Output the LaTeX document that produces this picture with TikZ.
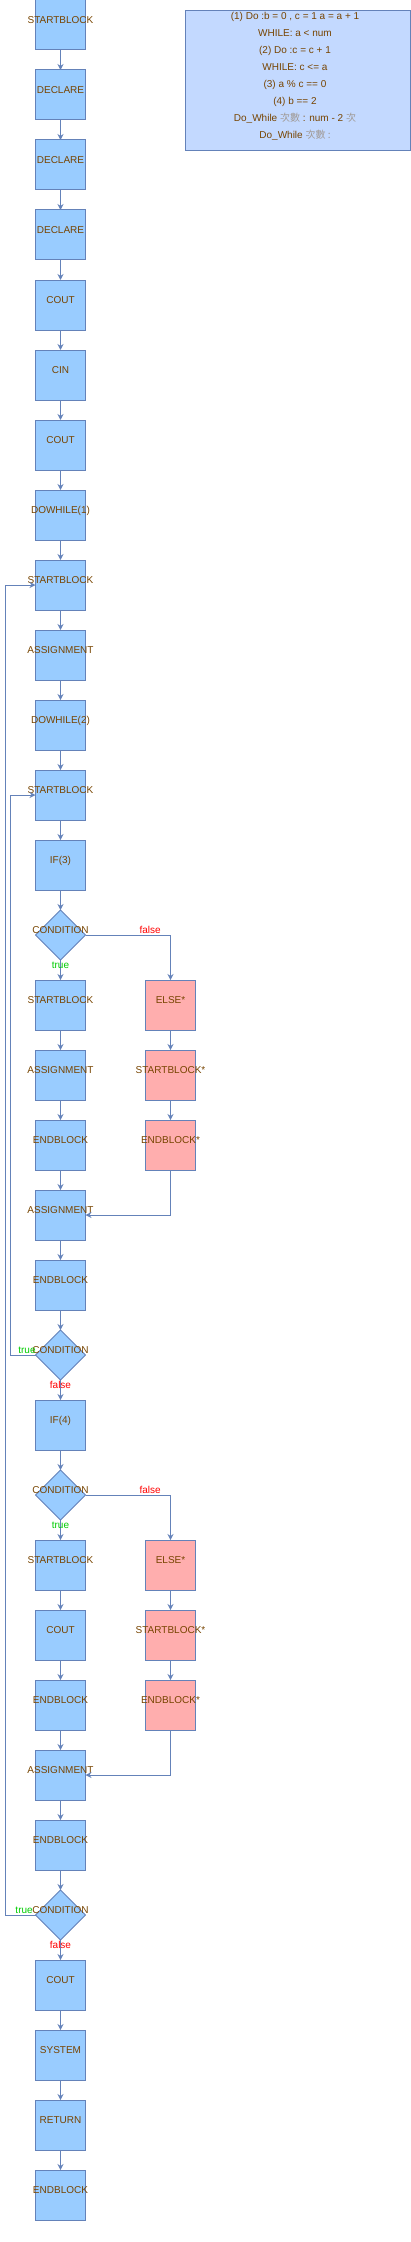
\documentclass[tikz,border=0pt]{standalone}
\usepackage{fontspec}
\setmainfont{Liberation Sans}
\newfontfamily\zhfont{Noto Sans CJK TC}
\usepackage{tikz}
\usetikzlibrary{positioning,shapes.geometric,arrows.meta}

\definecolor{boxblue}{HTML}{99CCFF}
\definecolor{boxred}{HTML}{FFAEAE}
\definecolor{edgeblue}{HTML}{6482B9}
\definecolor{notefill}{HTML}{C3D9FF}
\definecolor{textbrown}{HTML}{774400}
\definecolor{truegreen}{HTML}{00CC00}
\definecolor{falsered}{HTML}{FF0000}
\definecolor{zhgray}{HTML}{A09A96}
\newcommand{\zh}[1]{\textcolor{zhgray}{\zhfont #1}}

\begin{document}
\begin{tikzpicture}[x=1pt, y=1pt, node distance=20pt, line width=1pt,
    every node/.style={outer sep=0pt},
    basetext/.style={text=textbrown, font=\fontsize{10}{12}\selectfont, inner sep=0pt,
                     text height=7.2pt, text depth=0pt},
    boxtext/.style={basetext, yshift=5pt},
    block/.style={rectangle, draw=edgeblue, fill=boxblue, minimum width=50pt,
                  minimum height=50pt, inner sep=0pt, label={[boxtext]center:#1}},
    elseblock/.style={block=#1, fill=boxred},
    decision/.style={diamond, draw=edgeblue, fill=boxblue, minimum width=50pt,
                     minimum height=50pt, inner sep=0pt, label={[boxtext]center:CONDITION}},
    notebox/.style={rectangle, draw=edgeblue, fill=notefill, minimum width=225pt,
                    minimum height=140pt, inner sep=0pt},
    truelbl/.style={boxtext, text=truegreen, text height=7pt},
    falselbl/.style={boxtext, text=falsered, text height=7pt},
    flow/.style={draw=edgeblue, -{Stealth[length=6pt,width=6pt,inset=2pt]}}]
  \useasboundingbox (0,0) rectangle (411,-2242);

  % note
  \node[notebox] (note) at (298,-80.5) {};
  \foreach \i/\txt in {1/{(1) Do :b = 0 , c = 1 a = a + 1}, 2/{WHILE: a < num},
                       3/{(2) Do :c = c + 1}, 4/{WHILE: c <= a}, 5/{(3) a \% c == 0},
                       6/{(4) b == 2}, 7/{Do\_While \zh{次數} : num - 2 \zh{次}},
                       8/{Do\_While \zh{次數 :}}}
    \node[basetext] (note\i) at (295,{-16-17*(\i-1)}) {\txt};

  % main column
  \node[block=STARTBLOCK] (sb0) at (60.5,-25) {};
  \node[block=DECLARE] (dc1) [below=of sb0] {};
  \node[block=DECLARE] (dc2) [below=of dc1] {};
  \node[block=DECLARE] (dc3) [below=of dc2] {};
  \node[block=COUT] (co1) [below=of dc3] {};
  \node[block=CIN] (ci1) [below=of co1] {};
  \node[block=COUT] (co2) [below=of ci1] {};
  \node[block={DOWHILE(1)}] (dw1) [below=of co2] {};
  \node[block=STARTBLOCK] (sb1) [below=of dw1] {};
  \node[block=ASSIGNMENT] (as1) [below=of sb1] {};
  \node[block={DOWHILE(2)}] (dw2) [below=of as1] {};
  \node[block=STARTBLOCK] (sb2) [below=of dw2] {};
  \node[block={IF(3)}] (if3) [below=of sb2] {};
  \node[decision] (cd3) [below=of if3] {};
  \node[block=STARTBLOCK] (sb3) [below=of cd3] {};
  \node[block=ASSIGNMENT] (as3) [below=of sb3] {};
  \node[block=ENDBLOCK] (eb3) [below=of as3] {};
  \node[block=ASSIGNMENT] (as3b) [below=of eb3] {};
  \node[block=ENDBLOCK] (eb3b) [below=of as3b] {};
  \node[decision] (cw2) [below=of eb3b] {};
  \node[block={IF(4)}] (if4) [below=of cw2] {};
  \node[decision] (cd4) [below=of if4] {};
  \node[block=STARTBLOCK] (sb4) [below=of cd4] {};
  \node[block=COUT] (co4) [below=of sb4] {};
  \node[block=ENDBLOCK] (eb4) [below=of co4] {};
  \node[block=ASSIGNMENT] (as4) [below=of eb4] {};
  \node[block=ENDBLOCK] (eb4b) [below=of as4] {};
  \node[decision] (cw1) [below=of eb4b] {};
  \node[block=COUT] (co3) [below=of cw1] {};
  \node[block=SYSTEM] (sy1) [below=of co3] {};
  \node[block=RETURN] (rt1) [below=of sy1] {};
  \node[block=ENDBLOCK] (eb0) [below=of rt1] {};

  % else branches
  \node[elseblock=ELSE*] (el3) [right=60pt of sb3] {};
  \node[elseblock=STARTBLOCK*] (se3) [below=of el3] {};
  \node[elseblock=ENDBLOCK*] (ee3) [below=of se3] {};
  \node[elseblock=ELSE*] (el4) [right=60pt of sb4] {};
  \node[elseblock=STARTBLOCK*] (se4) [below=of el4] {};
  \node[elseblock=ENDBLOCK*] (ee4) [below=of se4] {};

  % plain edges
  \foreach \a/\b in {sb0/dc1, dc1/dc2, dc2/dc3, dc3/co1, co1/ci1, ci1/co2, co2/dw1,
                     dw1/sb1, sb1/as1, as1/dw2, dw2/sb2, sb2/if3, if3/cd3,
                     sb3/as3, as3/eb3, eb3/as3b, as3b/eb3b, eb3b/cw2,
                     if4/cd4, sb4/co4, co4/eb4, eb4/as4, as4/eb4b, eb4b/cw1,
                     co3/sy1, sy1/rt1, rt1/eb0,
                     el3/se3, se3/ee3, el4/se4, se4/ee4}
    \draw[flow] (\a) -- (\b);

  % branches and loops
  \draw[flow] (cd3) -- node[truelbl] {true} (sb3);
  \draw[flow] (cd3.east) -| node[falselbl, pos=0.38] {false} (el3);
  \draw[flow] (ee3) |- (as3b);
  \draw[flow] (cw2.west) -- node[truelbl, pos=0.34] {true} ++(-25,0) |- (sb2);
  \draw[flow] (cw2) -- node[falselbl] {false} (if4);
  \draw[flow] (cd4) -- node[truelbl] {true} (sb4);
  \draw[flow] (cd4.east) -| node[falselbl, pos=0.38] {false} (el4);
  \draw[flow] (ee4) |- (as4);
  \draw[flow] (cw1.west) -- node[truelbl, pos=0.38] {true} ++(-30,0) |- (sb1);
  \draw[flow] (cw1) -- node[falselbl] {false} (co3);
\end{tikzpicture}
\end{document}
